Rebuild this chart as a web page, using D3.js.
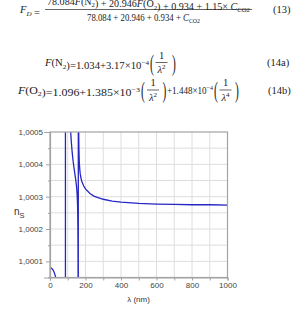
<!DOCTYPE html>
<html>
<head>
<meta charset="utf-8">
<script src="https://cdn.jsdelivr.net/npm/d3@7"></script>
<style>
body { margin: 0; background: #fff; }
svg { display: block; }
.eq { font-family: "Liberation Serif", "DejaVu Serif", serif; font-size: 10.5px; fill: #222; }
.tick text { font-family: "Liberation Sans", Arial, sans-serif; font-size: 8px; fill: #444; }
</style>
</head>
<body>
<svg id="chart" width="293" height="312"></svg>
<script>
// axis values
const xTicks = [0, 200, 400, 600, 800, 1000];
const yTicks = [1.0001, 1.0002, 1.0003, 1.0004, 1.0005];

// refractive index (three branches, joined through the two poles)
const lambdaNm = [0, 5, 10, 15, 20, 25, 30, 35, 40, 50, 60, 80, 86.9,
    87.0, 90, 100, 105, 110, 115, 120, 125, 130, 135, 140, 145, 150, 153, 155, 156, 157, 157.5, 158, 158.5, 159, 159.4,
    159.5, 160, 161, 162, 163, 165, 168, 170, 175, 180, 190, 200, 225, 250, 300, 350, 400, 500, 600, 700, 800, 900, 1000];
const nS = [1.0000806, 1.0000800, 1.0000781, 1.0000748, 1.0000701, 1.0000636, 1.0000551, 1.0000441, 1.0000300, 0.9999875, 0.99991, 0.99905, 0.832,
    1.161, 1.00289, 1.000846, 1.000674, 1.000576, 1.000514, 1.000470, 1.000437, 1.000411, 1.000390, 1.000371, 1.000352, 1.000329, 1.000306, 1.000278, 1.000254, 1.000210, 1.000173, 1.000110, 0.999982, 0.999575, 0.994,
    1.00833, 1.00100, 1.000578, 1.000486, 1.000446, 1.000407, 1.000382, 1.000372, 1.000356, 1.000346, 1.000333, 1.000324, 1.000310, 1.000301, 1.000292, 1.000286, 1.000283, 1.000279, 1.000277, 1.000276, 1.000275, 1.000275, 1.000274];

const svg = d3.select('#chart');

// ---- equations above the chart ----
function eq(x, y, html, len) {
    const t = svg.append('text').attr('class', 'eq').attr('x', x).attr('y', y).html(html);
    if (len) t.attr('textLength', len).attr('lengthAdjust', 'spacingAndGlyphs');
    return t;
}
const sub = (s) => '<tspan dy="2.5" font-size="7">' + s + '</tspan><tspan dy="-2.5"></tspan>';
const sup = (s) => '<tspan dy="-4" font-size="7">' + s + '</tspan><tspan dy="4"></tspan>';
const it = (s) => '<tspan font-style="italic">' + s + '</tspan>';

function frac(cx, yTop, yBot, barY, num, den) {
    eq(cx, yTop, num).attr('text-anchor', 'middle');
    eq(cx, yBot, den).attr('text-anchor', 'middle');
    svg.append('line').attr('x1', cx - 6).attr('x2', cx + 6).attr('y1', barY).attr('y2', barY)
        .attr('stroke', '#222').attr('stroke-width', 0.7);
}
function paren(x, y, ch) {
    svg.append('text').attr('class', 'eq').attr('x', x).attr('y', y)
        .style('font-size', '23px')
        .attr('transform', 'translate(' + x + ',0) scale(0.5,1) translate(' + (-x) + ',0)')
        .text(ch);
}

// (13)
eq(20, 13, it('F') + sub(it('D')) + ' =');
eq(47, 4.5, '78.084' + it('F') + '(N' + sub('2') + ') + 20.946' + it('F') + '(O' + sub('2') + ') + 0.934 + 1.15× ' + it('C') + sub('CO2'), 203);
svg.append('line').attr('x1', 45).attr('x2', 252).attr('y1', 9.5).attr('y2', 9.5).attr('stroke', '#222').attr('stroke-width', 0.7);
eq(87, 20.5, '78.084 + 20.946 + 0.934 + ' + it('C') + sub('CO2'), 113);
eq(273, 13, '(13)');

// (14a)
eq(45, 66, it('F') + '(N' + sub('2') + ')=1.034+3.17×10' + sup('−4'), 104);
paren(150, 71, '(');
frac(161.5, 58.5, 73, 62.5, '1', it('λ') + sup('2'));
paren(172, 71, ')');
eq(267, 66, '(14a)');

// (14b)
eq(18, 93.5, it('F') + '(O' + sub('2') + ')=1.096+1.385×10' + sup('−3'), 122);
paren(141, 98.5, '(');
frac(153, 86, 100.5, 90, '1', it('λ') + sup('2'));
paren(162.5, 98.5, ')');
eq(167, 93.5, '+1.448×10' + sup('−4'), 46);
paren(214, 98.5, '(');
frac(225.5, 86, 100.5, 90, '1', it('λ') + sup('4'));
paren(235, 98.5, ')');
eq(268, 93.5, '(14b)');

// ---- chart ----
const plotLeft = 50, plotRight = 227.5, plotTop = 132, plotBottom = 277.5;
const x = d3.scaleLinear().domain([0, 1000]).range([plotLeft, plotRight]);
const y = d3.scaleLinear().domain([1.00005, 1.0005]).range([plotBottom, plotTop]);

const xMinor = x.ticks(10);
const yMinor = y.ticks(9);
const isMajorY = (d) => yTicks.some((t) => Math.abs(t - d) < 1e-9);

// grid
svg.append('g').selectAll('line').data(xMinor.slice(1, -1)).enter().append('line')
    .attr('x1', (d) => x(d)).attr('x2', (d) => x(d)).attr('y1', plotTop).attr('y2', plotBottom)
    .attr('stroke', '#dedede').attr('stroke-width', 1);
svg.append('g').selectAll('line').data(yMinor.slice(1, -1)).enter().append('line')
    .attr('x1', plotLeft).attr('x2', plotRight).attr('y1', (d) => y(d)).attr('y2', (d) => y(d))
    .attr('stroke', '#dedede').attr('stroke-width', 1);

// curve
svg.append('clipPath').attr('id', 'plotClip').append('rect')
    .attr('x', plotLeft).attr('y', plotTop).attr('width', plotRight - plotLeft).attr('height', plotBottom - plotTop);
const points = lambdaNm.map((l, i) => [l, nS[i]]);
svg.append('path').datum(points)
    .attr('clip-path', 'url(#plotClip)')
    .attr('fill', 'none').attr('stroke', '#2626c4').attr('stroke-width', 1.3)
    .attr('d', d3.line().x((d) => x(d[0])).y((d) => y(d[1])));

// frame
svg.append('rect').attr('x', plotLeft).attr('y', plotTop).attr('width', plotRight - plotLeft).attr('height', plotBottom - plotTop)
    .attr('fill', 'none').attr('stroke', '#a3a3a3').attr('stroke-width', 1.2);

// axes
const xAxis = svg.append('g').attr('transform', 'translate(0,' + plotBottom + ')')
    .call(d3.axisBottom(x).tickValues(xMinor).tickSize(3).tickPadding(2)
        .tickFormat((d) => (xTicks.includes(d) ? d : '')));
const yAxis = svg.append('g').attr('transform', 'translate(' + plotLeft + ',0)')
    .call(d3.axisLeft(y).tickValues(yMinor).tickPadding(1)
        .tickFormat((d) => (isMajorY(d) ? d3.format('.4f')(d).replace('.', ',') : '')));
yAxis.selectAll('.tick line').attr('x2', (d) => (isMajorY(d) ? -4 : -2));
[xAxis, yAxis].forEach((a) => {
    a.select('.domain').attr('stroke', '#a3a3a3').attr('stroke-width', 1.2);
    a.selectAll('.tick line').attr('stroke', '#a3a3a3');
});

// axis titles
svg.append('text').attr('x', 14).attr('y', 215)
    .style('font-family', '"Liberation Sans", Arial, sans-serif').style('font-size', '10px').attr('fill', '#333')
    .html('n<tspan dy="2.5" font-size="7.5">S</tspan>');
svg.append('text').attr('x', 138.5).attr('y', 302).attr('text-anchor', 'middle')
    .style('font-family', '"Liberation Sans", Arial, sans-serif').style('font-size', '8px').attr('fill', '#333')
    .text('λ (nm)');
</script>
</body>
</html>
